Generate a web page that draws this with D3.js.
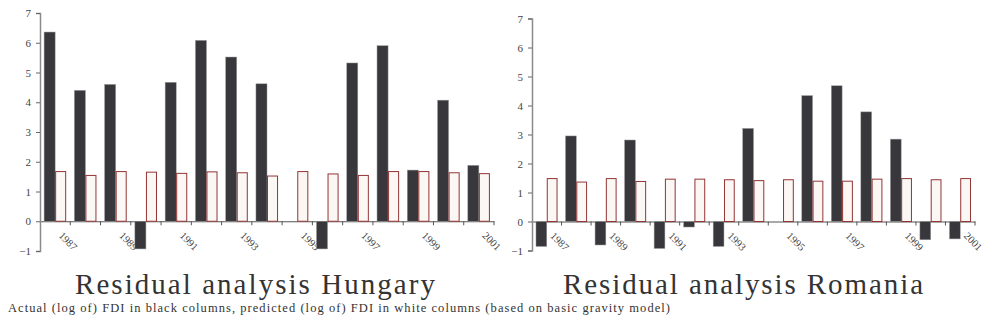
<!DOCTYPE html>
<html>
<head>
<meta charset="utf-8">
<script src="https://cdn.jsdelivr.net/npm/d3@7"></script>
<style>
  body { margin: 0; background: #fff; }
  svg { display: block; }
</style>
</head>
<body>
<svg id="chart" width="984" height="330"></svg>
<script>
const years = [1987, 1988, 1989, 1990, 1991, 1992, 1993, 1994, 1995, 1996, 1997, 1998, 1999, 2000, 2001];
const yTicks = [-1, 0, 1, 2, 3, 4, 5, 6, 7];

const hungaryActual = [6.36, 4.4, 4.6, -0.93, 4.67, 6.08, 5.52, 4.62, 0, -0.93, 5.32, 5.9, 1.72, 4.07, 1.88];
const hungaryPredicted = [1.67, 1.54, 1.67, 1.65, 1.61, 1.66, 1.63, 1.52, 1.67, 1.59, 1.54, 1.67, 1.67, 1.63, 1.6];

const romaniaActual = [-0.86, 2.95, -0.81, 2.81, -0.93, -0.19, -0.86, 3.21, 0, 4.34, 4.68, 3.78, 2.84, -0.63, -0.6];
const romaniaPredicted = [1.48, 1.36, 1.48, 1.38, 1.46, 1.46, 1.44, 1.41, 1.44, 1.39, 1.39, 1.46, 1.48, 1.44, 1.48];

const SERIF = "'Liberation Serif', 'DejaVu Serif', 'Times New Roman', serif";

const svg = d3.select('#chart');

function drawPanel(actual, predicted, title, box) {
  const x = d3.scaleBand()
    .domain(years)
    .range([box.left, box.right])
    .paddingInner(0)
    .paddingOuter(0);
  const y = d3.scaleLinear()
    .domain([-1, 7])
    .range([box.bottom, box.top]);

  const sub = d3.scaleBand()
    .domain(['actual', 'predicted'])
    .range([0, x.bandwidth()])
    .paddingOuter(0.37)
    .paddingInner(0);

  const g = svg.append('g');

  // x axis at zero (drawn first so the columns sit over the labels)
  const axisX = d3.axisBottom(x)
    .tickSize(0)
    .tickFormat(d => (d % 2 === 1 ? d : ''));
  g.append('g')
    .attr('transform', `translate(0, ${y(0)})`)
    .call(axisX)
    .attr('font-family', SERIF)
    .attr('font-size', 10.5)
    .call(a => a.select('.domain').attr('stroke', '#555').attr('stroke-width', 1))
    .call(a => a.selectAll('.tick text')
      .attr('fill', '#444')
      .attr('text-anchor', 'start')
      .attr('x', 0)
      .attr('y', 0)
      .attr('dy', 0)
      .attr('transform', 'translate(3, 15) rotate(45)'));

  // band boundary ticks
  g.append('g')
    .selectAll('line')
    .data(years)
    .enter().append('line')
    .attr('x1', d => x(d) + x.bandwidth())
    .attr('x2', d => x(d) + x.bandwidth())
    .attr('y1', y(0))
    .attr('y2', y(0) + 4)
    .attr('stroke', '#555');

  // columns
  g.selectAll('.actual')
    .data(years.map((yr, i) => ({ yr, v: actual[i] })).filter(d => d.v !== 0))
    .enter().append('rect')
    .attr('class', 'actual')
    .attr('x', d => x(d.yr) + sub('actual'))
    .attr('width', sub.bandwidth())
    .attr('y', d => y(Math.max(0, d.v)))
    .attr('height', d => Math.abs(y(d.v) - y(0)))
    .attr('fill', '#37373c')
    .attr('stroke', '#9a9a9a')
    .attr('stroke-width', 0.5);

  g.selectAll('.predicted')
    .data(years.map((yr, i) => ({ yr, v: predicted[i] })))
    .enter().append('rect')
    .attr('class', 'predicted')
    .attr('x', d => x(d.yr) + sub('predicted') + 0.5)
    .attr('width', sub.bandwidth() - 1)
    .attr('y', d => y(d.v))
    .attr('height', d => y(0) - y(d.v))
    .attr('fill', '#faf7f5')
    .attr('stroke', '#943434')
    .attr('stroke-width', 1);

  // y axis
  const axisY = d3.axisLeft(y).tickValues(yTicks).tickSize(4).tickPadding(5).tickFormat(d3.format('d'));
  g.append('g')
    .attr('transform', `translate(${box.left}, 0)`)
    .call(axisY)
    .attr('font-family', SERIF)
    .attr('font-size', 11)
    .call(a => a.select('.domain').attr('stroke', '#8a8a8a').attr('stroke-width', 1.5))
    .call(a => a.selectAll('.tick line').attr('stroke', '#666'))
    .call(a => a.selectAll('.tick text').attr('fill', '#444'));

  g.append('text')
    .attr('x', box.titleX)
    .attr('y', 294)
    .attr('text-anchor', 'middle')
    .attr('font-family', SERIF)
    .attr('font-size', 29)
    .attr('fill', '#333')
    .attr('textLength', 360)
    .attr('lengthAdjust', 'spacing')
    .text(title);
}

drawPanel(hungaryActual, hungaryPredicted, 'Residual analysis Hungary',
  { left: 40, right: 494, top: 13, bottom: 251, titleX: 255 });
drawPanel(romaniaActual, romaniaPredicted, 'Residual analysis Romania',
  { left: 532, right: 975, top: 18.5, bottom: 250.5, titleX: 743 });

svg.append('text')
  .attr('x', 8)
  .attr('y', 312)
  .attr('font-family', SERIF)
  .attr('font-size', 12.5)
  .attr('fill', '#333')
  .attr('textLength', 662)
  .attr('lengthAdjust', 'spacing')
  .text('Actual (log of) FDI in black columns, predicted (log of) FDI in white columns (based on basic gravity model)');
</script>
</body>
</html>
